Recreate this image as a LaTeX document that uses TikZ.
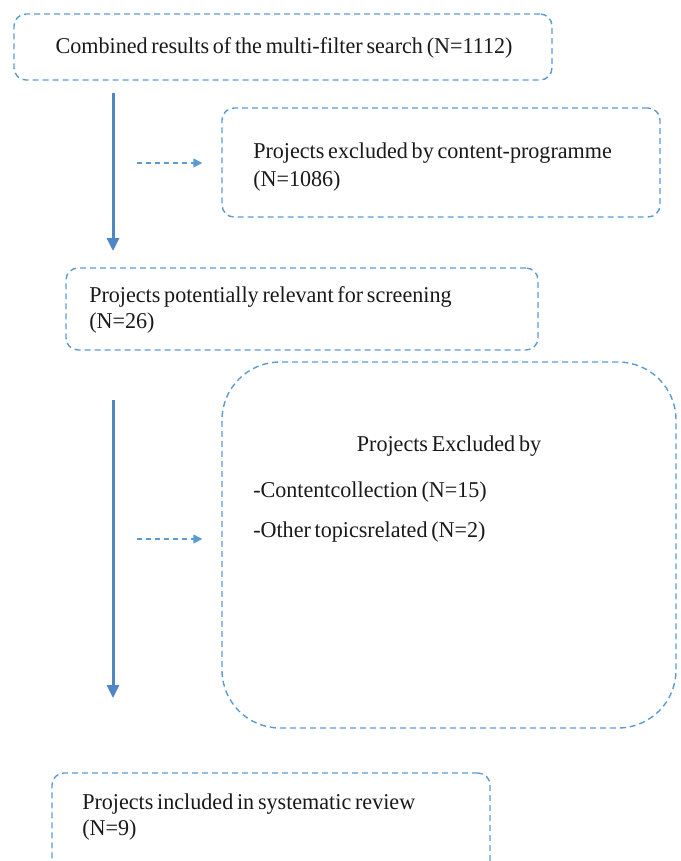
\documentclass[tikz,border=0pt]{standalone}
\usepackage{fontspec}
\setmainfont{Liberation Serif}
\usetikzlibrary{arrows.meta}
\definecolor{dashblue}{RGB}{91,155,213}
\definecolor{solidblue}{RGB}{79,134,198}
\newcommand{\mytxtfont}{\fontsize{17}{20}\selectfont\spaceskip=0.17em plus 0.05em minus 0.02em\relax}
\tikzset{
  dbox/.style={draw=dashblue, line width=1.4pt, dash pattern=on 6pt off 4pt, rounded corners=12pt, inner sep=0pt},
  txt/.style={anchor=west, inner sep=0pt, font=\mytxtfont, text=black!90, xscale=1.3, yscale=1.33},
  mainarrow/.style={draw=solidblue, line width=3pt, -{Triangle[length=13pt,width=12pt]}},
  sidearrow/.style={draw=dashblue, line width=1.4pt, dash pattern=on 5pt off 4pt, -{Triangle[length=9pt,width=9pt]}}
}
\begin{document}
\begin{tikzpicture}[x=1pt,y=-1pt]
\useasboundingbox (0,0) rectangle (680,861);
% boxes
\node[dbox, minimum width=538pt, minimum height=66pt] (b1) at (283,47) {};
\node[dbox, minimum width=438pt, minimum height=109pt] (b2) at (441,162.5) {};
\node[dbox, minimum width=472pt, minimum height=82pt] (b3) at (302,309) {};
\node[dbox, rounded corners=58pt, minimum width=454pt, minimum height=366pt] (b4) at (449,545) {};
\node[dbox, minimum width=438pt, minimum height=100pt] (b5) at (271,823) {};
% texts
\begin{scope}[every node/.append style={transform shape}]
\node[txt, anchor=center] (t1) at (284,48) {Combined results of the multi-filter search (N=1112)};
\node[txt] (t2a) at (253,153) {Projects excluded by content-programme};
\node[txt] (t2b) at (253,181) {(N=1086)};
\node[txt] (t3a) at (89,297) {Projects potentially relevant for screening};
\node[txt] (t3b) at (89,323) {(N=26)};
\node[txt, anchor=center] (t4a) at (449,446) {Projects Excluded by};
\node[txt] (t4b) at (253,492) {-Contentcollection (N=15)};
\node[txt] (t4c) at (253,532) {-Other topicsrelated (N=2)};
\node[txt] (t5a) at (82,804) {Projects included in systematic review};
\node[txt] (t5b) at (82,830) {(N=9)};
\end{scope}
% free ends
\coordinate (m1s) at (113,93);
\coordinate (m1e) at (113,251);
\coordinate (m2s) at (113,400);
\coordinate (m2e) at (113,698);
\coordinate (d1s) at (137,163);
\coordinate (d2s) at (137,539);
% arrows
\draw[mainarrow] (m1s) -- (m1e);
\draw[mainarrow] (m2s) -- (m2e);
\draw[sidearrow, shorten >=19pt] (d1s) -- (d1s -| b2.west);
\draw[sidearrow, shorten >=19pt] (d2s) -- (d2s -| b4.west);
\end{tikzpicture}
\end{document}
